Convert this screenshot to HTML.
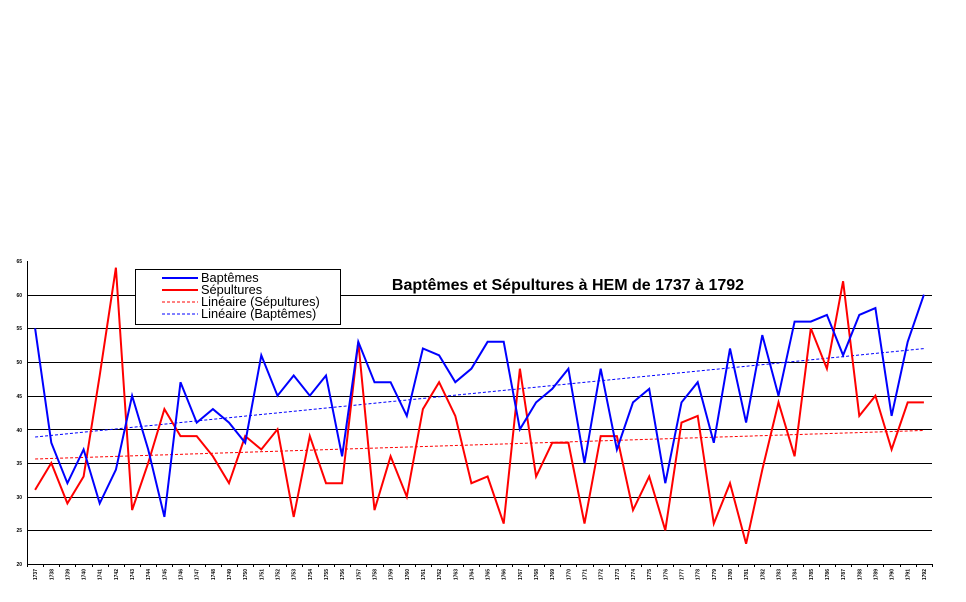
<!DOCTYPE html>
<html><head><meta charset="utf-8"><style>
html,body{margin:0;padding:0;background:#fff;}
svg{display:block;font-family:"Liberation Sans",sans-serif;}
</style></head><body>
<svg id="s" width="966" height="602" viewBox="0 0 966 602" xmlns="http://www.w3.org/2000/svg">
<g id="grid" stroke="#000" stroke-width="1"></g>
<line x1="27.5" y1="261" x2="27.5" y2="564" stroke="#000"/>
<g font-size="5" font-weight="bold" fill="#000" text-anchor="end">
<text x="22" y="263">65</text><text x="22" y="297">60</text><text x="22" y="330">55</text>
<text x="22" y="364">50</text><text x="22" y="398">45</text><text x="22" y="432">40</text>
<text x="22" y="465">35</text><text x="22" y="499">30</text><text x="22" y="532">25</text>
<text x="22" y="566">20</text>
</g>
<g id="years" font-size="5" font-weight="bold" fill="#000" text-anchor="end">
<text>1737</text><text>1738</text><text>1739</text><text>1740</text><text>1741</text><text>1742</text><text>1743</text><text>1744</text><text>1745</text><text>1746</text><text>1747</text><text>1748</text><text>1749</text><text>1750</text><text>1751</text><text>1752</text><text>1753</text><text>1754</text><text>1755</text><text>1756</text><text>1757</text><text>1758</text><text>1759</text><text>1760</text><text>1761</text><text>1762</text><text>1763</text><text>1764</text><text>1765</text><text>1766</text><text>1767</text><text>1768</text><text>1769</text><text>1770</text><text>1771</text><text>1772</text><text>1773</text><text>1774</text><text>1775</text><text>1776</text><text>1777</text><text>1778</text><text>1779</text><text>1780</text><text>1781</text><text>1782</text><text>1783</text><text>1784</text><text>1785</text><text>1786</text><text>1787</text><text>1788</text><text>1789</text><text>1790</text><text>1791</text><text>1792</text>
</g>
<line id="tr" stroke="#f00" stroke-width="1" stroke-dasharray="3,2"/>
<line id="tb" stroke="#00f" stroke-width="1" stroke-dasharray="3,2"/>
<polyline id="pr" fill="none" stroke="#f00" stroke-width="2"/>
<polyline id="pb" fill="none" stroke="#00f" stroke-width="2"/>
<text x="568" y="290" font-size="16" font-weight="bold" text-anchor="middle" fill="#000">Baptêmes et Sépultures à HEM de 1737 à 1792</text>
<rect x="135.5" y="269.5" width="205" height="55" fill="#fff" stroke="#000"/>
<line x1="162" y1="278" x2="198" y2="278" stroke="#00f" stroke-width="2"/>
<line x1="162" y1="290" x2="198" y2="290" stroke="#f00" stroke-width="2"/>
<line x1="162" y1="302" x2="198" y2="302" stroke="#f00" stroke-dasharray="3,2"/>
<line x1="162" y1="314" x2="198" y2="314" stroke="#00f" stroke-dasharray="3,2"/>
<g font-size="12.8" fill="#000">
<text x="201" y="282">Baptêmes</text>
<text x="201" y="294">Sépultures</text>
<text x="201" y="306">Linéaire (Sépultures)</text>
<text x="201" y="318">Linéaire (Baptêmes)</text>
</g>
</svg>
<script>
var B=[55,38,32,37,29,34,45,37,27,47,41,43,41,38,51,45,48,45,48,36,53,47,47,42,52,51,47,49,53,53,40,44,46,49,35,49,37,44,46,32,44,47,38,52,41,54,45,56,56,57,51,57,58,42,53,60];
var R=[31,35,29,33,48,64,28,35,43,39,39,36,32,39,37,40,27,39,32,32,53,28,36,30,43,47,42,32,33,26,49,33,38,38,26,39,39,28,33,25,41,42,26,32,23,34,44,36,55,49,62,42,45,37,44,44];
function X(i){return 35.1+16.16*i;}function Y(v){return 564-(v-20)*6.733;}
function pts(a){return a.map(function(v,i){return X(i).toFixed(1)+","+Y(v).toFixed(1)}).join(" ");}
document.getElementById("pb").setAttribute("points",pts(B));
document.getElementById("pr").setAttribute("points",pts(R));
function trend(a,id){var n=a.length,sx=0,sy=0,sxy=0,sxx=0;a.forEach(function(v,i){sx+=i;sy+=v;sxy+=i*v;sxx+=i*i;});
var m=(n*sxy-sx*sy)/(n*sxx-sx*sx),b=(sy-m*sx)/n;var l=document.getElementById(id);
l.setAttribute("x1",X(0));l.setAttribute("y1",Y(b));l.setAttribute("x2",X(n-1));l.setAttribute("y2",Y(b+m*(n-1)));}
trend(B,"tb");trend(R,"tr");
var g=document.getElementById("grid"),ns="http://www.w3.org/2000/svg";
for(var v=25;v<=60;v+=5){var l=document.createElementNS(ns,"line");var y=Math.round(Y(v))+0.5;
l.setAttribute("x1",27);l.setAttribute("x2",932);l.setAttribute("y1",y);l.setAttribute("y2",y);g.appendChild(l);}
var l0=document.createElementNS(ns,"line");l0.setAttribute("x1",27);l0.setAttribute("x2",932);l0.setAttribute("y1",564.5);l0.setAttribute("y2",564.5);g.appendChild(l0);
for(var i=0;i<=56;i++){var t=document.createElementNS(ns,"line");var x=Math.round(27+16.16*i)+0.5;
t.setAttribute("x1",x);t.setAttribute("x2",x);t.setAttribute("y1",564);t.setAttribute("y2",567);g.appendChild(t);}
var ys=document.getElementById("years").children;
for(var i=0;i<ys.length;i++){var x=X(i)+2;ys[i].setAttribute("transform","translate("+x+",569) rotate(-90)");}
</script>
</body></html>
